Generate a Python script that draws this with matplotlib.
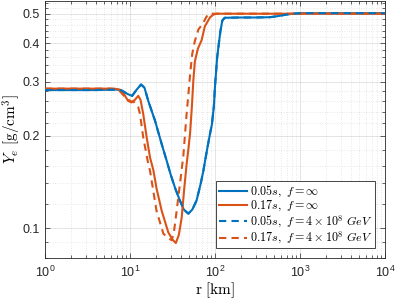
import numpy as np
import matplotlib
matplotlib.use("Agg")
import matplotlib.pyplot as plt
from matplotlib.font_manager import FontProperties
from matplotlib.ticker import FixedLocator, NullFormatter

plt.rcParams['font.family'] = ['Liberation Sans', 'DejaVu Sans']
plt.rcParams['mathtext.fontset'] = 'cm'

# blue: t = 0.05 s, orange: t = 0.17 s
r_blue = [1, 4, 7, 8, 9.3, 10.6, 12, 13.5, 14.8, 16.4, 19.7, 23.6, 27, 30, 34, 38.7,
          43, 48.5, 54, 60.6, 68, 73, 76.5, 82, 87.6, 92, 97, 100, 106, 112, 116,
          122, 130, 200, 300, 440, 550, 700, 900, 1000, 10000]
ye_blue = [0.282, 0.282, 0.283, 0.281, 0.274, 0.270, 0.283, 0.294, 0.287, 0.260, 0.224,
           0.188, 0.166, 0.150, 0.135, 0.123, 0.115, 0.1116, 0.115, 0.123, 0.140, 0.154,
           0.166, 0.185, 0.204, 0.218, 0.25, 0.29, 0.36, 0.408, 0.44, 0.475, 0.485,
           0.486, 0.486, 0.487, 0.491, 0.497, 0.501, 0.502, 0.502]

r_orange = [1, 6.5, 7.6, 8.6, 9.5, 10.4, 11.4, 12.5, 13.3, 14.3, 15.7, 17.2, 18.8, 20.5,
            23.6, 28.2, 31.5, 34.6, 37.5, 40.5, 43.5, 46.4, 48.5, 51, 53.5, 55.6, 58,
            63, 69.6, 76, 87.6, 96, 104.6, 10000]
ye_orange = [0.285, 0.285, 0.283, 0.272, 0.260, 0.257, 0.262, 0.270, 0.262, 0.236, 0.198,
             0.170, 0.155, 0.135, 0.114, 0.097, 0.092, 0.0895, 0.095, 0.108, 0.135, 0.162,
             0.18, 0.205, 0.25, 0.303, 0.35, 0.385, 0.41, 0.455, 0.487, 0.497, 0.500, 0.500]

# f = 4e8 GeV runs
r_blue_f = r_blue
ye_blue_f = ye_blue

r_orange_f = [1, 6, 7.3, 8.5, 10, 11.3, 12.5, 13.1, 14.3, 16.4, 17.2, 20.5, 24.7, 28, 31,
              33, 35.4, 38.5, 42.4, 46, 49, 51, 54, 58, 64, 72, 78, 83, 90, 10000]
ye_orange_f = [0.285, 0.285, 0.283, 0.270, 0.260, 0.257, 0.248, 0.236, 0.198, 0.162, 0.154,
               0.114, 0.096, 0.093, 0.0914, 0.098, 0.114, 0.138, 0.172, 0.23, 0.28, 0.318,
               0.37, 0.408, 0.445, 0.464, 0.485, 0.498, 0.5, 0.5]

labels = [r'$0.05s,\ f=\infty$', r'$0.17s,\ f=\infty$',
          r'$0.05s,\ f=4\times10^8\ GeV$', r'$0.17s,\ f=4\times10^8\ GeV$']
yticks = [0.1, 0.2, 0.3, 0.4, 0.5]

blue = '#0072BD'
orange = '#D95319'

fig = plt.figure(figsize=(3.95, 3.02), dpi=100)
ax = fig.add_axes([45 / 395, 44 / 302, 340 / 395, 257 / 302])

ax.plot(r_blue, ye_blue, color=blue, lw=1.5, label=labels[0], zorder=3)
ax.plot(r_orange, ye_orange, color=orange, lw=1.5, label=labels[1], zorder=3)
ax.plot(r_blue_f, ye_blue_f, color=blue, lw=1.5, ls=(0, (3.5, 2.5)), label=labels[2], zorder=5)
ax.plot(r_orange_f, ye_orange_f, color=orange, lw=1.5, ls=(0, (3.5, 2.5)), label=labels[3], zorder=4)

ax.set_xscale('log')
ax.set_yscale('log')
ax.set_xlim(1, 1e4)
ax.set_ylim(0.08, 0.55)

ax.yaxis.set_major_locator(FixedLocator(yticks))
ax.set_yticklabels([f'{v:g}' for v in yticks])
minor_y = [v / 100 for v in range(8, 56, 2) if v not in (10, 20, 30, 40, 50)] + [0.09]
ax.yaxis.set_minor_locator(FixedLocator(minor_y))
ax.yaxis.set_minor_formatter(NullFormatter())

ax.grid(True, which='major', color='#000000', alpha=0.12, lw=0.6, ls='-')
ax.grid(True, which='minor', color='#000000', alpha=0.18, lw=0.5, ls=(0, (1, 2.5)))
ax.tick_params(which='both', direction='in', top=True, right=True, colors='#262626',
               labelsize=9, width=0.5)
ax.tick_params(which='major', length=3.5)
ax.tick_params(which='minor', length=2)
ax.tick_params(axis='x', pad=5)
for s in ax.spines.values():
    s.set_linewidth(0.6)
    s.set_color('#262626')

cm = FontProperties(size=11, math_fontfamily='cm')
ax.set_xlabel(r'$\mathrm{r\ [km]}$', fontproperties=cm, labelpad=0)
ax.set_ylabel(r'$Y_e\ [\mathrm{g/cm^3}]$', fontproperties=cm, labelpad=0)

leg = ax.legend(loc='lower right', prop=FontProperties(size=8.7, math_fontfamily='cm'),
                fancybox=False, framealpha=1, edgecolor='#262626', handlelength=2.3,
                handletextpad=0.3, borderpad=0.2, labelspacing=0.0,
                borderaxespad=0.8)
leg.get_frame().set_linewidth(0.6)

fig.savefig('out.png', dpi=100)
